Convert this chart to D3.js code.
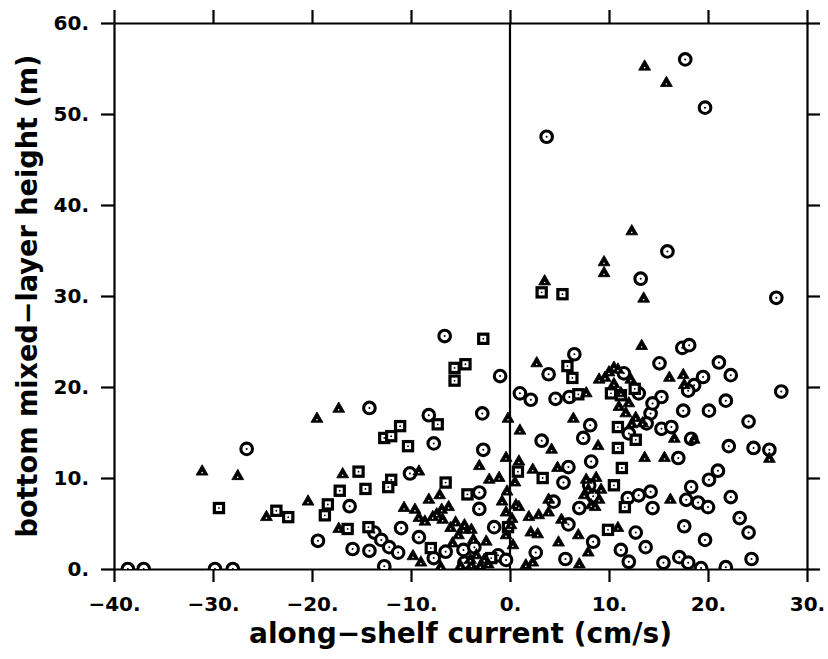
<!DOCTYPE html>
<html>
<head>
<meta charset="utf-8">
<script src="https://cdn.jsdelivr.net/npm/d3@7"></script>
<style>
  html, body { margin: 0; padding: 0; background: #fff; }
  svg { display: block; }
  text { font-family: "DejaVu Sans", sans-serif; font-weight: bold; fill: #000; }
</style>
</head>
<body>
<script>
// ---- data (along-shelf current cm/s, bottom mixed-layer height m) ----
const xTickValues = [-40, -30, -20, -10, 0, 10, 20, 30];
const xTickLabels = ["\u221240.", "\u221230.", "\u221220.", "\u221210.", "0.", "10.", "20.", "30."];
const yTickValues = [0, 10, 20, 30, 40, 50, 60];
const yTickLabels = ["0.", "10.", "20.", "30.", "40.", "50.", "60."];
const xTitle = "along\u2212shelf current (cm/s)";
const yTitle = "bottom mixed\u2212layer height (m)";

const circleSeries = [
  [17.7,56.0],[19.7,50.7],[3.7,47.5],[15.9,34.9],[13.2,31.9],[26.9,29.8],[-6.6,25.6],[-1.0,21.2],
  [6.5,23.6],[3.9,21.4],[1.0,19.3],[2.1,18.6],[4.6,18.7],[6.0,18.9],[8.1,15.8],[-2.8,17.1],
  [-8.2,16.9],[-14.2,17.7],[-26.6,13.2],[-38.6,0],[-37.0,0],[-29.8,0],[-28.0,0],[-16.2,6.9],
  [-19.4,3.1],[-15.9,2.2],[-14.2,2.0],[-13.7,4.0],[-13.0,3.2],[-12.2,2.4],[-11.3,1.8],[-12.7,0.3],
  [-10.1,10.5],[-11.0,4.5],[-9.2,3.5],[-7.7,13.8],[-2.7,13.1],[-3.1,8.4],[-3.1,6.6],[-1.6,4.6],
  [-4.7,2.1],[-7.7,1.2],[-6.5,1.9],[-1.2,1.5],[-0.4,1.0],[3.2,14.1],[5.9,11.2],[5.4,9.5],
  [8.2,11.8],[7.0,6.7],[4.4,7.4],[7.4,14.4],[12.0,14.9],[11.9,7.8],[13.0,8.1],[14.2,8.5],
  [14.4,6.7],[5.9,4.9],[12.7,4.0],[8.4,3.0],[11.2,2.1],[13.7,2.4],[2.6,1.8],[5.6,1.1],
  [12.0,0.8],[13.0,19.3],[14.2,17.1],[19.5,21.1],[22.3,21.3],[18.6,20.2],[18.0,19.6],[27.4,19.5],
  [15.3,18.9],[14.4,18.2],[17.5,17.4],[20.1,17.4],[21.8,18.5],[24.1,16.2],[15.3,15.4],[16.3,15.6],
  [18.3,14.3],[22.1,13.5],[24.6,13.3],[26.2,13.1],[17.0,12.2],[20.1,9.8],[21.0,10.8],[18.3,9.0],
  [17.8,7.6],[19.0,7.3],[20.0,6.8],[22.3,7.9],[23.2,5.6],[24.1,4.0],[17.6,4.7],[19.7,3.2],
  [24.4,1.1],[17.1,1.3],[18.0,0.7],[15.5,0.7],[19.3,0.1],[21.8,0.2],[17.4,24.3],[18.1,24.6],
  [15.1,22.6],[21.1,22.7],[-4.6,0.7],[8.0,9.2],[8.4,8.0],[11.5,21.5],[13.8,16.0],[-3.6,2.4]
];

const triangleSeries = [
  [13.6,55.2],[15.8,53.4],[12.3,37.1],[9.5,33.7],[9.5,32.5],[13.5,29.7],[3.5,31.6],[2.7,22.6],
  [9.0,20.8],[13.3,24.5],[7.7,19.3],[6.4,16.5],[1.0,15.2],[-0.2,16.5],[-17.3,17.6],[-19.5,16.5],
  [-31.1,10.7],[-27.5,10.2],[-24.6,5.7],[-16.9,10.4],[-20.4,7.4],[-17.3,4.4],[-9.2,10.7],[-7.1,8.1],
  [-8.2,7.6],[-10.7,6.7],[-9.6,6.5],[-6.9,6.5],[-9.2,5.6],[-7.8,5.7],[-6.8,5.4],[-5.5,5.1],
  [-4.6,4.8],[-3.9,4.3],[-5.2,3.7],[-3.7,3.2],[-4.7,4.3],[-6.0,4.5],[-9.8,1.4],[-3.1,11.3],
  [-0.4,12.2],[-2.1,9.8],[-1.1,10.0],[-0.8,7.4],[0.9,11.8],[0.9,6.8],[1.9,5.7],[2.9,5.9],
  [3.9,6.2],[3.9,7.6],[4.2,13.1],[4.8,11.1],[2.3,10.9],[8.9,13.5],[13.6,12.2],[5.2,5.4],
  [6.9,3.7],[2.1,4.0],[2.8,3.8],[4.9,2.9],[10.9,4.5],[2.3,0.7],[1.6,0.4],[7.0,0.5],
  [7.9,1.8],[16.2,7.6],[16.6,14.3],[26.2,12.1],[15.6,12.2],[16.1,21.0],[17.5,21.3],[17.6,20.2],
  [10.0,21.6],[10.5,22.1],[12.2,20.8],[11.7,17.1],[12.7,16.6],[13.4,16.0],[7.7,9.8],[8.7,10.0],
  [7.5,8.1],[9.0,7.6],[8.2,7.0],[9.2,8.7],[-0.4,6.2],[0.1,4.8],[-0.4,3.7],[0.3,2.6],
  [0.6,7.0],[-9.0,0.7],[-7.0,0.2],[-3.9,0.4],[-3.4,1.5],[-2.6,1.0],[18.6,14.2],[10.9,21.9],
  [11.2,19.3],[-4.0,1.0],[-3.0,0.3],[-2.2,0.5],[-5.0,0.3],[0.2,5.5],[-0.3,8.5],[0.5,9.5],
  [7.9,8.7],[8.6,6.8],[10.5,20.3],[12.0,18.2],[11.0,17.8],[12.3,15.9],[-7.4,6.0],[-6.2,6.8],
  [-8.6,5.2],[-5.8,2.8],[-2.4,3.0],[9.6,21.0]
];

const squareSeries = [
  [3.2,30.4],[5.3,30.2],[-2.7,25.3],[-5.6,22.1],[-4.5,22.5],[-5.6,20.7],[5.8,22.3],[6.3,21.0],
  [6.9,19.2],[10.2,19.3],[11.2,19.1],[-7.3,15.9],[-11.1,15.7],[-12.7,14.4],[-12.0,14.6],[-10.3,13.5],
  [-29.4,6.7],[-23.6,6.4],[-22.4,5.7],[-15.3,10.7],[-17.2,8.6],[-14.6,8.8],[-18.4,7.1],[-18.7,5.9],
  [-16.4,4.4],[-14.3,4.6],[-12.0,9.8],[-12.3,9.0],[-6.5,9.5],[-4.3,8.2],[-8.0,2.3],[-1.9,1.2],
  [0.8,10.7],[3.3,10.0],[10.9,15.6],[12.7,14.2],[10.9,13.3],[11.3,11.1],[10.5,9.2],[9.9,4.3],
  [11.6,6.8],[-0.2,4.6],[12.6,19.8]
];

// ---- layout ----
const W = 828, H = 659;
const svg = d3.select("body").append("svg").attr("width", W).attr("height", H);
const x = d3.scaleLinear().domain([-40, 30]).range([114, 807]);
const y = d3.scaleLinear().domain([0, 60]).range([569, 23]);

svg.append("defs").append("clipPath").attr("id", "plotclip")
  .append("rect").attr("x", x(-40)).attr("y", 0).attr("width", x(30) - x(-40)).attr("height", y(0));

function styleAxis(g) {
  g.selectAll("path.domain").attr("stroke", "#000").attr("stroke-width", 2.2);
  g.selectAll(".tick line").attr("stroke", "#000").attr("stroke-width", 2.2);
  g.selectAll(".tick text").style("font-family", '"DejaVu Sans", sans-serif')
    .style("font-weight", "bold").style("font-size", "20px").attr("fill", "#000");
}

svg.append("g").attr("transform", `translate(0,${y(0)})`)
  .call(d3.axisBottom(x).tickValues(xTickValues).tickSize(13).tickSizeOuter(0).tickPadding(15)
    .tickFormat((d, i) => xTickLabels[i]))
  .call(styleAxis);

svg.append("g").attr("transform", `translate(0,${y(60)})`)
  .call(d3.axisTop(x).tickValues(xTickValues).tickSize(13).tickSizeOuter(0).tickFormat(""))
  .call(styleAxis);

svg.append("g").attr("transform", `translate(${x(-40)},0)`)
  .call(d3.axisLeft(y).tickValues(yTickValues).tickSize(13).tickSizeOuter(0).tickPadding(12)
    .tickFormat((d, i) => yTickLabels[i]))
  .call(styleAxis);

svg.append("g").attr("transform", `translate(${x(30)},0)`)
  .call(d3.axisRight(y).tickValues(yTickValues).tickSize(13).tickSizeOuter(0).tickFormat(""))
  .call(styleAxis);

// zero line
svg.append("line").attr("x1", x(0)).attr("x2", x(0)).attr("y1", y(60)).attr("y2", y(0))
  .attr("stroke", "#000").attr("stroke-width", 2.2);

// titles
svg.append("text").attr("x", (x(-40) + x(30)) / 2).attr("y", 643)
  .attr("text-anchor", "middle").style("font-size", "28px")
  .attr("textLength", 423).attr("lengthAdjust", "spacingAndGlyphs").text(xTitle);

svg.append("text").attr("transform", `translate(37,${(y(0) + y(60)) / 2}) rotate(-90)`)
  .attr("text-anchor", "middle").style("font-size", "28px")
  .attr("textLength", 483).attr("lengthAdjust", "spacingAndGlyphs").text(yTitle);

// points
const pts = svg.append("g").attr("clip-path", "url(#plotclip)");

const cg = pts.append("g");
cg.selectAll("circle.ring").data(circleSeries).join("circle").attr("class", "ring")
  .attr("cx", d => x(d[0])).attr("cy", d => y(d[1])).attr("r", 5.8)
  .attr("fill", "#fff").attr("stroke", "#000").attr("stroke-width", 3.1);
cg.selectAll("circle.dot").data(circleSeries).join("circle").attr("class", "dot")
  .attr("cx", d => x(d[0])).attr("cy", d => y(d[1])).attr("r", 1).attr("fill", "#000");

const sg = pts.append("g");
sg.selectAll("rect.box").data(squareSeries).join("rect").attr("class", "box")
  .attr("x", d => x(d[0]) - 4.6).attr("y", d => y(d[1]) - 4.6).attr("width", 9.2).attr("height", 9.2)
  .attr("fill", "#fff").attr("stroke", "#000").attr("stroke-width", 3.2);
sg.selectAll("circle.dot").data(squareSeries).join("circle").attr("class", "dot")
  .attr("cx", d => x(d[0])).attr("cy", d => y(d[1])).attr("r", 0.9).attr("fill", "#000");

const tri = d3.symbol().type(d3.symbolTriangle).size(62);
const tg = pts.append("g");
tg.selectAll("path.tri").data(triangleSeries).join("path").attr("class", "tri")
  .attr("transform", d => `translate(${x(d[0])},${y(d[1])})`).attr("d", tri)
  .attr("fill", "#000").attr("stroke", "#000").attr("stroke-width", 0.8);
tg.selectAll("circle.dot").data(triangleSeries).join("circle").attr("class", "dot")
  .attr("cx", d => x(d[0])).attr("cy", d => y(d[1]) + 1).attr("r", 0.8).attr("fill", "#fff");
</script>
</body>
</html>
